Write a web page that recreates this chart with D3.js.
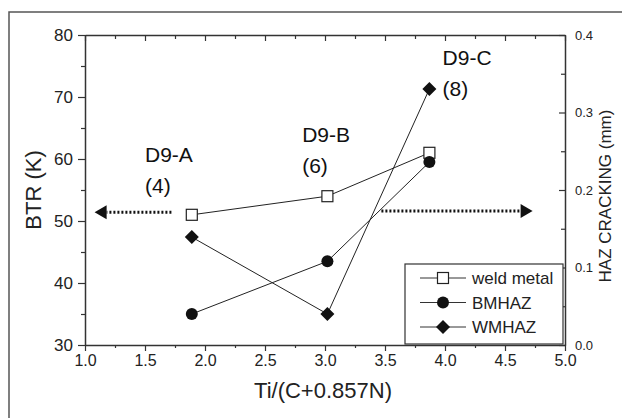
<!DOCTYPE html>
<html>
<head>
<meta charset="utf-8">
<script src="https://cdn.jsdelivr.net/npm/d3@7"></script>
<style>
  body { margin: 0; background: #fff; }
  svg text { font-family: "Liberation Sans", Arial, Helvetica, sans-serif !important; }
</style>
</head>
<body>
<div id="chart"></div>
<script>
// data
const ratio = [1.89, 3.02, 3.87];
const weldMetal = [51.0, 54.0, 61.0];
const bmhaz = [35.0, 43.5, 59.5];
const wmhaz = [47.4, 35.0, 71.3];
const seriesNames = ["weld metal", "BMHAZ", "WMHAZ"];
const xTicks = [1.0, 1.5, 2.0, 2.5, 3.0, 3.5, 4.0, 4.5, 5.0];
const yTicks = [30, 40, 50, 60, 70, 80];
const y2Ticks = [0.0, 0.1, 0.2, 0.3, 0.4];
const grades = ["D9-A", "D9-B", "D9-C"];
const gradeNums = ["(4)", "(6)", "(8)"];
const gradeX = [1.5, 2.81, 3.98];
const gradeY = [59.5, 62.8, 75.2];
const arrows = [
  { from: 1.72, to: 1.08, y: 51.4 },
  { from: 3.47, to: 4.73, y: 51.6 }
];

const W = 622, H = 418;
const svg = d3.select("#chart").append("svg").attr("width", W).attr("height", H);

// outer frame
svg.append("rect").attr("x", 9).attr("y", 12).attr("width", 640).attr("height", 440)
  .attr("fill", "none").attr("stroke", "#555").attr("stroke-width", 1.5);

const x = d3.scaleLinear().domain([1, 5]).range([85, 565]);
const y = d3.scaleLinear().domain([30, 80]).range([345, 35]);
const y2 = d3.scaleLinear().domain([0, 0.4]).range([345, 35]);

const axisColor = "#333";

// minor ticks
const xMinor = d3.range(1.25, 5, 0.5);
const yMinor = d3.range(35, 80, 10);
const y2Minor = d3.range(0.05, 0.4, 0.1);

function styleAxis(g) {
  g.attr("font-family", null);
  g.selectAll("path").attr("stroke", axisColor).attr("stroke-width", 1.5);
  g.selectAll("line").attr("stroke", axisColor).attr("stroke-width", 1.2);
  g.selectAll("text").attr("fill", "#222");
}

// bottom axis
svg.append("g").attr("transform", "translate(0,345)")
  .call(d3.axisBottom(x).tickValues(xTicks).tickFormat(d3.format(".1f")).tickSize(6).tickSizeOuter(0).tickPadding(4))
  .call(g => g.selectAll("text").style("font-size", "16px"))
  .call(styleAxis);
svg.append("g").attr("transform", "translate(0,345)")
  .call(d3.axisBottom(x).tickValues(xMinor).tickFormat("").tickSize(3).tickSizeOuter(0))
  .call(styleAxis).call(g => g.select("path").remove());

// top axis (ticks inward)
svg.append("g").attr("transform", "translate(0,35)")
  .call(d3.axisTop(x).tickValues(xTicks).tickFormat("").tickSize(-6).tickSizeOuter(0))
  .call(styleAxis);
svg.append("g").attr("transform", "translate(0,35)")
  .call(d3.axisTop(x).tickValues(xMinor).tickFormat("").tickSize(-4).tickSizeOuter(0))
  .call(styleAxis).call(g => g.select("path").remove());

// left axis
svg.append("g").attr("transform", "translate(85,0)")
  .call(d3.axisLeft(y).tickValues(yTicks).tickSize(7).tickSizeOuter(0).tickPadding(5))
  .call(g => g.selectAll("text").style("font-size", "17px"))
  .call(styleAxis);
svg.append("g").attr("transform", "translate(85,0)")
  .call(d3.axisLeft(y).tickValues(yMinor).tickFormat("").tickSize(4).tickSizeOuter(0))
  .call(styleAxis).call(g => g.select("path").remove());

// right axis (ticks inward)
svg.append("g").attr("transform", "translate(565,0)")
  .call(d3.axisRight(y2).tickValues(y2Ticks).tickFormat(d3.format(".1f")).tickSize(-6).tickSizeOuter(0).tickPadding(10))
  .call(g => g.selectAll("text").style("font-size", "13px"))
  .call(styleAxis);
svg.append("g").attr("transform", "translate(565,0)")
  .call(d3.axisRight(y2).tickValues(y2Minor).tickFormat("").tickSize(-4).tickSizeOuter(0))
  .call(styleAxis).call(g => g.select("path").remove());

// axis titles
svg.append("text").attr("x", 323).attr("y", 398).attr("text-anchor", "middle")
  .style("font-size", "22px").attr("fill", "#222").text("Ti/(C+0.857N)");
svg.append("text").attr("transform", "translate(41,190) rotate(-90)").attr("text-anchor", "middle")
  .style("font-size", "22px").attr("fill", "#222").text("BTR (K)");
svg.append("text").attr("transform", "translate(611,196) rotate(-90)").attr("text-anchor", "middle")
  .style("font-size", "17px").attr("fill", "#222").text("HAZ CRACKING (mm)");

// grade labels
grades.forEach((g, i) => {
  svg.append("text").attr("x", x(gradeX[i])).attr("y", y(gradeY[i]))
    .style("font-size", "21px").attr("fill", "#111").text(g);
  svg.append("text").attr("x", x(gradeX[i])).attr("y", y(gradeY[i]) + 31)
    .style("font-size", "21px").attr("fill", "#111").text(gradeNums[i]);
});

// dotted arrows
arrows.forEach(a => {
  const dir = Math.sign(a.to - a.from);
  const tip = x(a.to), base = tip - dir * 12, yy = y(a.y);
  svg.append("line").attr("x1", x(a.from)).attr("x2", base).attr("y1", yy).attr("y2", yy)
    .attr("stroke", "#111").attr("stroke-width", 3).attr("stroke-dasharray", "2,2");
  svg.append("path").attr("d", `M${tip},${yy}L${base},${yy - 7}L${base},${yy + 7}Z`).attr("fill", "#111");
});

// series
const series = [
  { name: seriesNames[0], values: weldMetal, shape: "square" },
  { name: seriesNames[1], values: bmhaz, shape: "circle" },
  { name: seriesNames[2], values: wmhaz, shape: "diamond" }
];
const line = d3.line().x(d => x(d[0])).y(d => y(d[1]));

function marker(g, shape, cx, cy) {
  if (shape === "square") {
    g.append("rect").attr("x", cx - 5.5).attr("y", cy - 5.5).attr("width", 11).attr("height", 11)
      .attr("fill", "#fff").attr("stroke", "#222").attr("stroke-width", 1.2);
  } else if (shape === "circle") {
    g.append("circle").attr("cx", cx).attr("cy", cy).attr("r", 6).attr("fill", "#111");
  } else {
    g.append("path").attr("d", `M${cx},${cy - 7}L${cx + 7},${cy}L${cx},${cy + 7}L${cx - 7},${cy}Z`).attr("fill", "#111");
  }
}

series.forEach(s => {
  const pts = ratio.map((r, i) => [r, s.values[i]]);
  svg.append("path").datum(pts).attr("d", line).attr("fill", "none")
    .attr("stroke", "#222").attr("stroke-width", 1);
});
series.forEach(s => {
  const g = svg.append("g");
  ratio.forEach((r, i) => marker(g, s.shape, x(r), y(s.values[i])));
});

// legend
const lg = svg.append("g");
lg.append("rect").attr("x", 405).attr("y", 264).attr("width", 158).attr("height", 80)
  .attr("fill", "#fff").attr("stroke", "#333").attr("stroke-width", 1.2);
series.forEach((s, i) => {
  const cy = 278 + i * 24.5;
  lg.append("line").attr("x1", 420).attr("x2", 466).attr("y1", cy).attr("y2", cy)
    .attr("stroke", "#333").attr("stroke-width", 1);
  marker(lg, s.shape, 443, cy);
  lg.append("text").attr("x", 472).attr("y", cy + 6).style("font-size", "17px")
    .attr("fill", "#222").text(s.name);
});
</script>
</body>
</html>
